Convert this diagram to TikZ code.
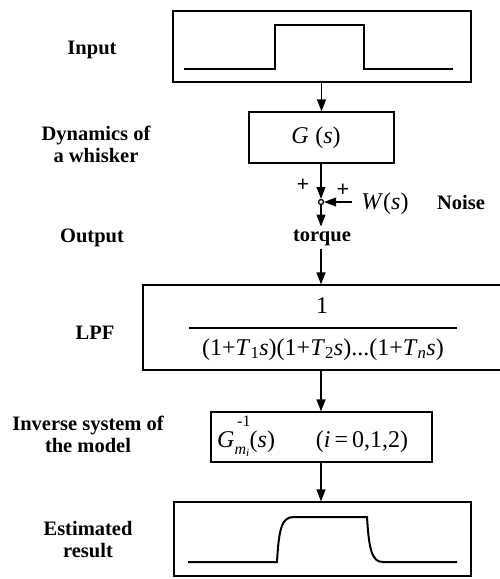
\documentclass[tikz,border=0pt]{standalone}
\usepackage{fontspec}
\setmainfont{Liberation Serif}
\usetikzlibrary{arrows.meta}
\begin{document}
\begin{tikzpicture}[x=1pt,y=-1pt,
  box/.style={draw,line width=1.3pt,inner sep=0pt},
  lbl/.style={font=\fontsize{20.5}{22}\selectfont\bfseries,align=center},
  mth/.style={font=\fontsize{24}{26}\selectfont,inner sep=0pt},
  sig/.style={line width=2pt},
  flow/.style={line width=1.3pt,-{Triangle[length=12pt,width=9pt]}},
  plus/.style={font=\fontsize{22}{22}\selectfont\bfseries,inner sep=0pt}
]
\useasboundingbox (0,0) rectangle (500,579);

% boxes
\node[box,minimum width=298pt,minimum height=71pt] (in) at (322,46.5) {};
\node[box,minimum width=145pt,minimum height=51pt] (g) at (321.5,137.5) {};
\node[box,minimum width=358pt,minimum height=85pt] (lpf) at (322,327.5) {};
\node[box,minimum width=221pt,minimum height=50pt] (inv) at (321.5,437) {};
\node[box,minimum width=297pt,minimum height=74pt] (est) at (322.5,539) {};

% input pulse
\draw[sig] (184,69) -- (275,69) -- (275,25) -- (364,25) -- (364,69) -- (453,69);
% estimated result
\draw[sig] (188,562) -- (277,562) .. controls (279,527) and (282,517) .. (294,517)
  -- (367,517) .. controls (369,550) and (372,562) .. (383,562) -- (457,562);

% box contents
\node[mth] (gs) at (316,138) {\textit{G}\;(\textit{s})};
\node[mth,anchor=base] (num) at (322,313) {1};
\node[mth,anchor=base] (den) at (323,355) {(1+\textit{T}\textsubscript{1}\textit{s})(1+\textit{T}\textsubscript{2}\textit{s})...(1+\textit{T}\textsubscript{\textit{n}}\textit{s})};
\draw[line width=1.3pt] (189,328) -- (457,328);
\node[mth,anchor=base west] (ginv) at (217,447) {\textit{G}\rlap{\raisebox{0.85em}{\fontsize{16}{16}\selectfont\,-1}}\raisebox{-0.3em}{\fontsize{16}{16}\selectfont\textit{m}\textsubscript{\textit{i}}}(\textit{s})};
\node[mth,anchor=base] (idx) at (362,447) {(\textit{i}\,=\,0,1,2)};

% labels
\node[lbl] (l1) at (92,50) {Input};
\node[lbl] (l2) at (96,144) {Dynamics of\\a whisker};
\node[lbl] (l3) at (92,238) {Output};
\node[lbl] (l4) at (95,333) {LPF};
\node[lbl] (l5) at (88,434) {Inverse system of\\the model};
\node[lbl] (l6) at (88,540) {Estimated\\result};
\node[lbl] (tq) at (322,238) {torque};
\node[mth,anchor=base] (w) at (385,209) {\textit{W}(\textit{s})};
\node[lbl,anchor=base] (noise) at (461,209) {Noise};

% summing junction
\node[draw,circle,line width=1.3pt,fill=white,minimum size=5pt,inner sep=0pt] (sum) at (321,202) {};
\node[plus] (p1) at (303,185) {+};
\node[plus] (p2) at (343,190) {+};
\coordinate (wst) at (352,202);

% connectors
\draw[flow] (in.south -| g.north) -- (g.north);
\draw[flow] (g.south -| sum) -- (sum.north);
\draw[flow] (wst) -- (sum.east);
\draw[flow] (sum.south) -- (tq.north -| sum);
\draw[flow] (tq.south -| sum) -- (sum |- lpf.north);
\draw[flow] (lpf.south -| sum) -- (sum |- inv.north);
\draw[flow] (inv.south -| sum) -- (sum |- est.north);
\end{tikzpicture}
\end{document}
